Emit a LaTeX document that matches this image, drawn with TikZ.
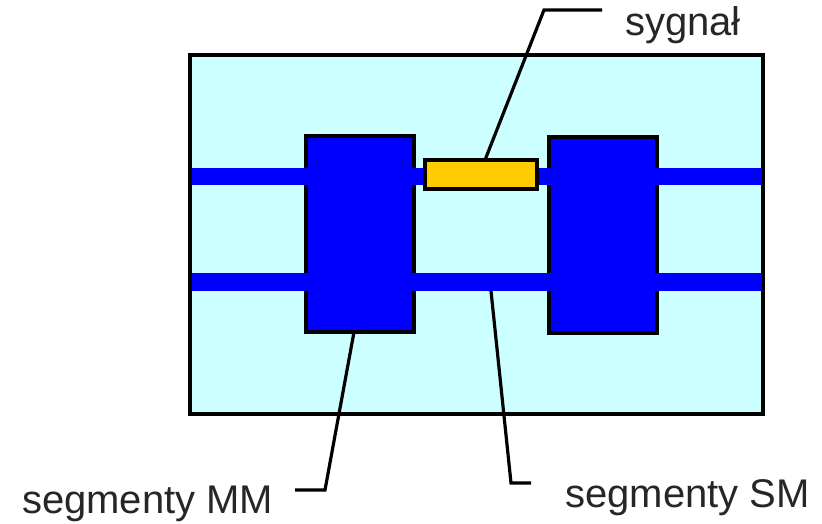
\documentclass[tikz,border=0pt]{standalone}
\usepackage{fontspec}
\setmainfont{Liberation Sans}
\definecolor{podloze}{HTML}{CCFFFF}
\definecolor{linia}{HTML}{0000FF}
\definecolor{sygn}{HTML}{FFCC00}
\begin{document}
\begin{tikzpicture}[x=1pt, y=-1pt,
    segment/.style={draw=black, line width=3.2pt, fill=linia, inner sep=0pt, outer sep=0pt},
    pasek/.style={fill=linia},
    odnosnik/.style={line width=3.2pt, line join=miter},
    opis/.style={font=\fontsize{40}{42}\selectfont, inner sep=0pt, anchor=base west, text=black!85}]
    \useasboundingbox (0,0) rectangle (822,524);
    % podloze
    \draw[line width=3.2pt, fill=podloze] (190,55) rectangle (763,414);
    % segmenty MM
    \node[segment, minimum width=108pt, minimum height=196pt] (mmL) at (360,234) {};
    \node[segment, minimum width=108pt, minimum height=196pt] (mmP) at (603,235) {};
    % linie sygnalowe (na wierzchu segmentow)
    \fill[pasek] (191.5,168) rectangle (761.5,185);
    \fill[pasek] (191.5,273) rectangle (761.5,291);
    \coordinate (sm) at (491,291);
    % sygnal
    \node[segment, fill=sygn, minimum width=112pt, minimum height=29pt] (sig) at (481,174.5) {};
    % opisy
    \node[opis] (tSig) at (625,36) {sygnał};
    \node[opis] (tMM) at (22,513) {segmenty MM};
    \node[opis] (tSM) at (565,507) {segmenty SM};
    \coordinate (kSig) at (602,10);
    \coordinate (kMM) at (295,490);
    \coordinate (kSM) at (531,483);
    % odnosniki
    \draw[odnosnik] ([xshift=4pt]sig.north) -- (544,10) -- (kSig);
    \draw[odnosnik] ([xshift=-6pt]mmL.south) -- (325,490) -- (kMM);
    \draw[odnosnik] (sm) -- (511,483) -- (kSM);
\end{tikzpicture}
\end{document}
